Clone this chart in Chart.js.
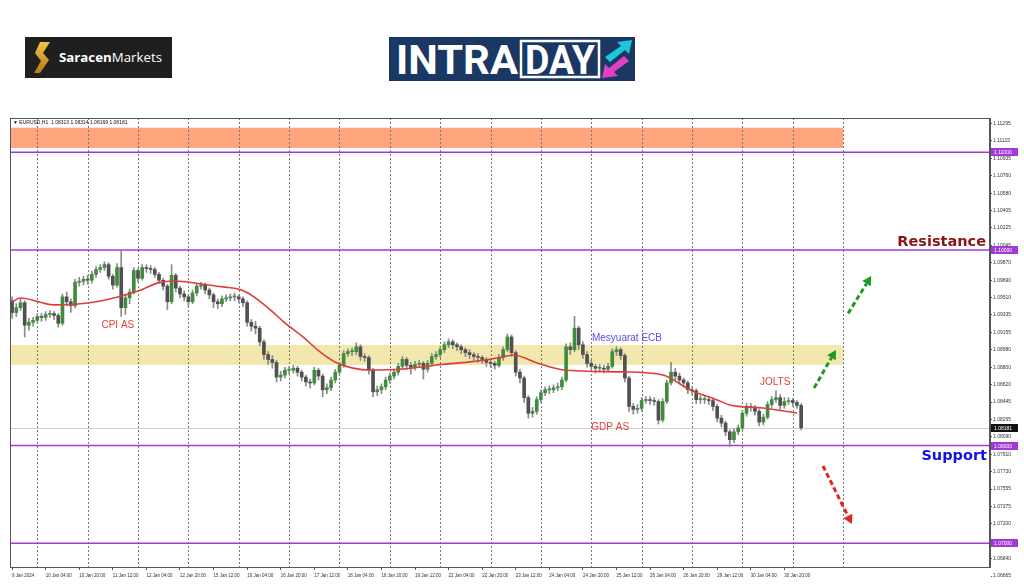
<!DOCTYPE html>
<html>
<head>
<meta charset="utf-8">
<script src="https://cdn.jsdelivr.net/npm/chart.js@4.4.1/dist/chart.umd.min.js"></script>
<style>
  body { margin: 0; background: #fff; }
  #wrap { position: relative; width: 1024px; height: 587px; overflow: hidden; }
  #chart { position: absolute; left: 0; top: 0; }
  .logo { position: absolute; }
</style>
</head>
<body>
<div id="wrap">
  <canvas id="chart" width="1024" height="587"></canvas>

  <svg class="logo" style="left:25px;top:37px" width="147" height="41">
    <defs>
      <linearGradient id="gold" x1="0" y1="0" x2="0" y2="1">
        <stop offset="0" stop-color="#f4c443"/>
        <stop offset="1" stop-color="#b57b17"/>
      </linearGradient>
    </defs>
    <rect width="147" height="41" fill="#1f1f1f"/>
    <path d="M15 5 L25 5 L18 16 L24 23 L15 36 L9 36 L16 24 L10 16 Z" fill="url(#gold)"/>
    <text x="34" y="25" font-family="Open Sans, Liberation Sans, sans-serif" font-size="12.5" fill="#fff"
          textLength="103" lengthAdjust="spacingAndGlyphs"><tspan font-weight="bold">Saracen</tspan>Markets</text>
  </svg>

  <svg class="logo" style="left:389px;top:37px" width="246" height="44">
    <rect width="246" height="44" fill="#1b3764"/>
    <text x="7" y="37" font-family="Liberation Sans Narrow, Roboto, Liberation Sans, sans-serif" font-weight="bold"
          font-size="41" fill="#fff" textLength="122" lengthAdjust="spacingAndGlyphs">INTRA</text>
    <rect x="132" y="4" width="78" height="36" fill="none" stroke="#fff" stroke-width="2.5"/>
    <text x="136" y="37" font-family="Liberation Sans Narrow, Roboto, Liberation Sans, sans-serif" font-weight="bold"
          font-size="41" fill="#fff" textLength="70" lengthAdjust="spacingAndGlyphs">DAY</text>
    <polygon points="216,20 232,9 228,5 243,3 240,17 236,13 221,25" fill="#1cc7d9"/>
    <polygon points="240,24 225,35 229,39 213,41 216,27 220,31 235,19" fill="#e23fc4"/>
  </svg>
</div>

<script>
// EURUSD H1, one candle per two hours (bar index)
const opens = [
  1.0948,1.0936,1.0941,1.0946,1.0923,1.0926,1.0928,1.0932,1.0931,1.0934,
  1.0935,1.0933,1.0925,1.0952,1.0947,1.0943,1.0967,1.0968,1.0970,1.0969,
  1.0975,1.0980,1.0982,1.0985,1.0973,1.0964,1.0982,1.0941,1.0951,1.0957,
  1.0979,1.0971,1.0982,1.0981,1.0980,1.0975,1.0969,1.0963,1.0947,1.0974,
  1.0961,1.0955,1.0952,1.0947,1.0956,1.0963,1.0964,1.0959,1.0954,1.0947,
  1.0945,1.0950,1.0951,1.0952,1.0952,1.0950,1.0946,1.0926,1.0922,1.0920,
  1.0906,1.0893,1.0888,1.0885,1.0870,1.0872,1.0877,1.0877,1.0879,1.0875,
  1.0870,1.0865,1.0864,1.0877,1.0871,1.0857,1.0859,1.0867,1.0875,1.0882,
  1.0894,1.0896,1.0896,1.0901,1.0891,1.0890,1.0877,1.0855,1.0857,1.0860,
  1.0867,1.0871,1.0875,1.0881,1.0888,1.0882,1.0880,1.0883,1.0884,1.0878,
  1.0884,1.0891,1.0893,1.0898,1.0903,1.0906,1.0903,1.0901,1.0898,1.0895,
  1.0893,1.0891,1.0890,1.0888,1.0885,1.0884,1.0882,1.0890,1.0898,1.0911,
  1.0895,1.0875,1.0869,1.0849,1.0833,1.0835,1.0847,1.0854,1.0857,1.0857,
  1.0859,1.0860,1.0867,1.0901,1.0898,1.0920,1.0903,1.0893,1.0884,1.0881,
  1.0879,1.0879,1.0878,1.0881,1.0896,1.0898,1.0892,1.0869,1.0840,1.0837,
  1.0838,1.0846,1.0847,1.0846,1.0845,1.0826,1.0845,1.0864,1.0875,1.0871,
  1.0867,1.0864,1.0857,1.0856,1.0847,1.0847,1.0847,1.0846,1.0840,1.0828,
  1.0823,1.0814,1.0806,1.0814,1.0818,1.0833,1.0840,1.0839,1.0835,1.0824,
  1.0829,1.0842,1.0847,1.0849,1.0841,1.0845,1.0846,1.0844,1.0841
];
const highs = [
  1.0952,1.0945,1.0950,1.0948,1.0930,1.0931,1.0935,1.0935,1.0937,1.0938,
  1.0937,1.0935,1.0955,1.0957,1.0950,1.0970,1.0972,1.0973,1.0974,1.0978,
  1.0983,1.0985,1.0988,1.0987,1.0975,1.0986,1.1000,1.0955,1.0960,1.0982,
  1.0981,1.0985,1.0985,1.0984,1.0982,1.0977,1.0971,1.0965,1.0985,1.0976,
  1.0963,1.0958,1.0954,1.0959,1.0966,1.0967,1.0966,1.0961,1.0956,1.0950,
  1.0953,1.0954,1.0955,1.0956,1.0954,1.0952,1.0948,1.0929,1.0927,1.0922,
  1.0908,1.0896,1.0892,1.0887,1.0876,1.0880,1.0881,1.0882,1.0881,1.0877,
  1.0872,1.0868,1.0880,1.0879,1.0873,1.0863,1.0870,1.0878,1.0885,1.0897,
  1.0899,1.0900,1.0905,1.0903,1.0894,1.0892,1.0879,1.0861,1.0863,1.0870,
  1.0874,1.0878,1.0884,1.0891,1.0890,1.0885,1.0886,1.0887,1.0886,1.0887,
  1.0894,1.0896,1.0901,1.0906,1.0909,1.0908,1.0905,1.0903,1.0900,1.0898,
  1.0895,1.0894,1.0892,1.0890,1.0888,1.0886,1.0893,1.0901,1.0914,1.0913,
  1.0897,1.0878,1.0871,1.0851,1.0839,1.0850,1.0857,1.0860,1.0861,1.0862,
  1.0864,1.0870,1.0904,1.0905,1.0932,1.0922,1.0906,1.0896,1.0887,1.0883,
  1.0883,1.0882,1.0884,1.0899,1.0901,1.0900,1.0894,1.0871,1.0843,1.0842,
  1.0849,1.0850,1.0850,1.0849,1.0847,1.0848,1.0867,1.0885,1.0879,1.0874,
  1.0869,1.0866,1.0860,1.0858,1.0851,1.0850,1.0850,1.0848,1.0842,1.0831,
  1.0825,1.0816,1.0817,1.0821,1.0836,1.0843,1.0843,1.0841,1.0837,1.0832,
  1.0845,1.0850,1.0856,1.0852,1.0849,1.0849,1.0848,1.0846,1.0843
];
const lows = [
  1.0930,1.0932,1.0938,1.0911,1.0918,1.0922,1.0925,1.0927,1.0928,1.0931,
  1.0929,1.0921,1.0923,1.0943,1.0936,1.0941,1.0963,1.0964,1.0965,1.0966,
  1.0972,1.0977,1.0979,1.0970,1.0960,1.0962,1.0932,1.0934,1.0945,1.0955,
  1.0967,1.0969,1.0977,1.0976,1.0972,1.0966,1.0959,1.0939,1.0945,1.0957,
  1.0951,1.0948,1.0942,1.0945,1.0953,1.0960,1.0955,1.0950,1.0941,1.0940,
  1.0942,1.0947,1.0948,1.0948,1.0946,1.0942,1.0922,1.0917,1.0914,1.0902,
  1.0888,1.0883,1.0879,1.0865,1.0866,1.0869,1.0873,1.0874,1.0871,1.0866,
  1.0861,1.0859,1.0862,1.0867,1.0850,1.0853,1.0856,1.0864,1.0872,1.0880,
  1.0891,1.0892,1.0893,1.0887,1.0886,1.0873,1.0850,1.0851,1.0853,1.0857,
  1.0864,1.0868,1.0872,1.0878,1.0878,1.0873,1.0877,1.0880,1.0868,1.0875,
  1.0881,1.0888,1.0890,1.0895,1.0900,1.0899,1.0897,1.0894,1.0891,1.0889,
  1.0887,1.0885,1.0884,1.0881,1.0880,1.0878,1.0880,1.0887,1.0896,1.0891,
  1.0871,1.0864,1.0844,1.0828,1.0829,1.0832,1.0844,1.0851,1.0853,1.0854,
  1.0856,1.0857,1.0865,1.0893,1.0896,1.0898,1.0889,1.0880,1.0877,1.0874,
  1.0875,1.0874,1.0875,1.0879,1.0892,1.0888,1.0865,1.0835,1.0832,1.0833,
  1.0835,1.0843,1.0842,1.0841,1.0822,1.0824,1.0843,1.0862,1.0867,1.0863,
  1.0860,1.0853,1.0852,1.0843,1.0843,1.0843,1.0842,1.0836,1.0824,1.0819,
  1.0810,1.0799,1.0803,1.0811,1.0816,1.0830,1.0835,1.0831,1.0820,1.0821,
  1.0827,1.0839,1.0844,1.0837,1.0838,1.0842,1.0840,1.0838,1.0816
];
const closes = [
  1.0936,1.0941,1.0946,1.0923,1.0926,1.0928,1.0932,1.0931,1.0934,1.0935,
  1.0933,1.0925,1.0952,1.0947,1.0943,1.0967,1.0968,1.0970,1.0969,1.0975,
  1.0980,1.0982,1.0985,1.0973,1.0964,1.0982,1.0941,1.0951,1.0957,1.0979,
  1.0971,1.0982,1.0981,1.0980,1.0975,1.0969,1.0963,1.0947,1.0974,1.0961,
  1.0955,1.0952,1.0947,1.0956,1.0963,1.0964,1.0959,1.0954,1.0947,1.0945,
  1.0950,1.0951,1.0952,1.0952,1.0950,1.0946,1.0926,1.0922,1.0920,1.0906,
  1.0893,1.0888,1.0885,1.0870,1.0872,1.0877,1.0877,1.0879,1.0875,1.0870,
  1.0865,1.0864,1.0877,1.0871,1.0857,1.0859,1.0867,1.0875,1.0882,1.0894,
  1.0896,1.0896,1.0901,1.0891,1.0890,1.0877,1.0855,1.0857,1.0860,1.0867,
  1.0871,1.0875,1.0881,1.0888,1.0882,1.0880,1.0883,1.0884,1.0878,1.0884,
  1.0891,1.0893,1.0898,1.0903,1.0906,1.0903,1.0901,1.0898,1.0895,1.0893,
  1.0891,1.0890,1.0888,1.0885,1.0884,1.0882,1.0890,1.0898,1.0911,1.0895,
  1.0875,1.0869,1.0849,1.0833,1.0835,1.0847,1.0854,1.0857,1.0857,1.0859,
  1.0860,1.0867,1.0901,1.0898,1.0920,1.0903,1.0893,1.0884,1.0881,1.0879,
  1.0879,1.0878,1.0881,1.0896,1.0898,1.0892,1.0869,1.0840,1.0837,1.0838,
  1.0846,1.0847,1.0846,1.0845,1.0826,1.0845,1.0864,1.0875,1.0871,1.0867,
  1.0864,1.0857,1.0856,1.0847,1.0847,1.0847,1.0846,1.0840,1.0828,1.0823,
  1.0814,1.0806,1.0814,1.0818,1.0833,1.0840,1.0839,1.0835,1.0824,1.0829,
  1.0842,1.0847,1.0849,1.0841,1.0845,1.0846,1.0844,1.0841,1.08181
];

// red moving average, sampled along the line
const maBars = [0, 1.9, 10.2, 18.1, 25.2, 30.7, 34.8, 38.8, 45, 50.7, 53.8, 56.2, 61, 65, 69.3, 73.4,
  77.4, 85.3, 93.1, 101.2, 109.1, 117, 119.4, 125.1, 131.3, 145.5, 155.1, 161.5, 168, 171, 178.9, 187];
const maValues = [1.09468, 1.09509, 1.09438, 1.09458, 1.09519, 1.09591, 1.09663, 1.09683, 1.09652, 1.09620,
  1.09600, 1.09560, 1.09407, 1.09254, 1.09110, 1.08957, 1.08845, 1.08773, 1.08783, 1.08824, 1.08855,
  1.08906, 1.08926, 1.08845, 1.08773, 1.08753, 1.08722, 1.08569, 1.08466, 1.08415, 1.08384, 1.08333];

const xTickBars = [0, 8, 16, 24, 32, 40, 48, 56, 64, 72, 80, 88, 96, 104, 112, 120, 128, 136, 144, 152, 160, 168, 176, 184];
const xTickLabels = ['9 Jan 2024', '10 Jan 04:00', '10 Jan 20:00', '11 Jan 12:00', '12 Jan 04:00', '12 Jan 20:00',
  '15 Jan 12:00', '16 Jan 04:00', '16 Jan 20:00', '17 Jan 12:00', '18 Jan 04:00', '18 Jan 20:00', '19 Jan 12:00',
  '22 Jan 04:00', '22 Jan 20:00', '23 Jan 12:00', '24 Jan 04:00', '24 Jan 20:00', '25 Jan 12:00', '26 Jan 04:00',
  '26 Jan 20:00', '29 Jan 12:00', '30 Jan 04:00', '30 Jan 20:00'];
const daySepBars = [6, 18, 30, 42, 54, 66, 78, 90, 102, 114, 126, 138, 150, 162, 174, 186, 198];

const yTickValues = [1.11295, 1.11115, 1.10935, 1.10760, 1.10580, 1.10405, 1.10225, 1.10045, 1.09870, 1.09690,
  1.09510, 1.09335, 1.09155, 1.08980, 1.08800, 1.08620, 1.08445, 1.08265, 1.08090, 1.07910, 1.07730,
  1.07555, 1.07375, 1.07200, 1.07020, 1.06840, 1.06665];

const levelLines = [1.11000, 1.10000, 1.08000, 1.07000];
const bidPrice = 1.08181;
const zoneLows = [1.11043, 1.08824];
const zoneHighs = [1.11250, 1.09029];
const zoneEndBar = 198;

const noteTexts = ['CPI AS', 'Mesyuarat ECB', 'GDP AS', 'JOLTS'];
const noteBars = [25.2, 146.5, 142.5, 181.8];
const notePrices = [1.0923, 1.0910, 1.0819, 1.0865];

// trend arrows: start bar/price -> end bar/price
const arrowFromBars = [199.2, 191.1, 193.2];
const arrowFromPrices = [1.09351, 1.08589, 1.07791];
const arrowToBars = [204.7, 196.3, 200.1];
const arrowToPrices = [1.09734, 1.08978, 1.07198];

const headerText = '\u25BC EURUSD,H1  1.08313 1.08314 1.08169 1.08181';

const zoneColors = ['rgba(255,150,105,0.85)', 'rgba(236,222,140,0.7)'];
const noteColors = ['#e5403a', '#5a4fe0', '#e5403a', '#e5403a'];
const arrowColors = ['#1f9a1f', '#1f9a1f', '#e02424'];
const purple = '#a23ad6';
const bull = '#3f8c3f';
const bear = '#505050';

const drawArrow = (ctx, x0, y0, x1, y1, color) => {
  const ang = Math.atan2(y1 - y0, x1 - x0);
  const head = 9;
  const bx = x1 - Math.cos(ang) * head, by = y1 - Math.sin(ang) * head;
  ctx.strokeStyle = color;
  ctx.fillStyle = color;
  ctx.lineWidth = 3;
  ctx.setLineDash([5, 3]);
  ctx.beginPath();
  ctx.moveTo(x0, y0);
  ctx.lineTo(bx, by);
  ctx.stroke();
  ctx.setLineDash([]);
  ctx.beginPath();
  ctx.moveTo(x1, y1);
  ctx.lineTo(bx + Math.sin(ang) * 5, by - Math.cos(ang) * 5);
  ctx.lineTo(bx - Math.sin(ang) * 5, by + Math.cos(ang) * 5);
  ctx.closePath();
  ctx.fill();
};

const overlay = {
  id: 'overlay',
  beforeDatasetsDraw(chart) {
    const { ctx, chartArea: a, scales: { x, y } } = chart;
    ctx.save();
    ctx.beginPath();
    ctx.rect(a.left, a.top, a.right - a.left, a.bottom - a.top);
    ctx.clip();

    const xEnd = x.getPixelForValue(zoneEndBar);
    zoneLows.forEach((lo, i) => {
      const top = y.getPixelForValue(zoneHighs[i]);
      const bot = y.getPixelForValue(lo);
      ctx.fillStyle = zoneColors[i];
      ctx.fillRect(a.left, top, xEnd - a.left, bot - top);
    });

    ctx.strokeStyle = '#777';
    ctx.lineWidth = 1;
    ctx.setLineDash([2, 2]);
    daySepBars.forEach(b => {
      const px = Math.round(x.getPixelForValue(b)) + 0.5;
      ctx.beginPath();
      ctx.moveTo(px, a.top);
      ctx.lineTo(px, a.bottom);
      ctx.stroke();
    });
    ctx.setLineDash([]);

    const bidY = Math.round(y.getPixelForValue(bidPrice)) + 0.5;
    ctx.strokeStyle = '#cfcfcf';
    ctx.beginPath();
    ctx.moveTo(a.left, bidY);
    ctx.lineTo(a.right, bidY);
    ctx.stroke();

    ctx.strokeStyle = purple;
    ctx.lineWidth = 1.5;
    levelLines.forEach(v => {
      const py = y.getPixelForValue(v);
      ctx.beginPath();
      ctx.moveTo(a.left, py);
      ctx.lineTo(a.right, py);
      ctx.stroke();
    });
    ctx.restore();
  },
  afterDatasetsDraw(chart) {
    const { ctx, chartArea: a, scales: { x, y } } = chart;
    ctx.save();

    ctx.font = '10px "Liberation Sans", Arial, sans-serif';
    ctx.textAlign = 'center';
    ctx.textBaseline = 'middle';
    noteTexts.forEach((t, i) => {
      ctx.fillStyle = noteColors[i];
      ctx.fillText(t, x.getPixelForValue(noteBars[i]), y.getPixelForValue(notePrices[i]));
    });

    arrowFromBars.forEach((b, i) => {
      drawArrow(ctx, x.getPixelForValue(b), y.getPixelForValue(arrowFromPrices[i]),
        x.getPixelForValue(arrowToBars[i]), y.getPixelForValue(arrowToPrices[i]), arrowColors[i]);
    });

    ctx.font = 'bold 14.5px "DejaVu Sans", Verdana, sans-serif';
    ctx.textAlign = 'right';
    ctx.textBaseline = 'alphabetic';
    ctx.fillStyle = '#8a1414';
    ctx.fillText('Resistance', a.right - 4, y.getPixelForValue(levelLines[1]) - 4);
    ctx.textBaseline = 'top';
    ctx.fillStyle = '#1010e6';
    ctx.fillText('Support', a.right - 3, y.getPixelForValue(levelLines[2]) + 3);

    ctx.font = '5px "Liberation Sans", Arial, sans-serif';
    ctx.textAlign = 'left';
    ctx.textBaseline = 'middle';
    ctx.fillStyle = '#111';
    ctx.fillText(headerText, a.left + 3, a.top + 5);

    ctx.strokeStyle = '#555';
    ctx.lineWidth = 1;
    ctx.strokeRect(a.left + 0.5, a.top + 0.5, a.right - a.left - 1, a.bottom - a.top);

    const box = (v, bg) => {
      const py = Math.round(y.getPixelForValue(v));
      ctx.fillStyle = bg;
      ctx.fillRect(a.right + 1, py - 4, 27, 8);
      ctx.fillStyle = '#fff';
      ctx.fillText(v.toFixed(5), a.right + 4, py + 0.5);
    };
    levelLines.forEach(v => box(v, purple));
    box(bidPrice, '#111');
    ctx.restore();
  }
};

const bodies = opens.map((o, i) => ({ x: i, y: [o, closes[i]] }));
const wicks = lows.map((l, i) => ({ x: i, y: [l, highs[i]] }));
const maLine = maBars.map((b, i) => ({ x: b, y: maValues[i] }));

new Chart(document.getElementById('chart'), {
  type: 'bar',
  data: {
    datasets: [
      {
        type: 'line',
        data: maLine,
        borderColor: '#e23b3b',
        borderWidth: 1.6,
        pointRadius: 0,
        cubicInterpolationMode: 'monotone',
        order: 1,
      },
      {
        data: bodies,
        backgroundColor: (c) => (closes[c.dataIndex] >= opens[c.dataIndex] ? bull : bear),
        barThickness: 3,
        minBarLength: 1,
        grouped: false,
        order: 2,
      },
      {
        data: wicks,
        backgroundColor: '#8a8a8a',
        barThickness: 1,
        grouped: false,
        order: 3,
      },
    ],
  },
  options: {
    responsive: false,
    animation: false,
    layout: { padding: { left: 10, top: 118, right: 0, bottom: 0 } },
    plugins: { legend: { display: false }, tooltip: { enabled: false } },
    scales: {
      x: {
        type: 'linear',
        min: -0.5,
        max: 233,
        offset: false,
        grid: { drawOnChartArea: false, offset: false, tickLength: 3, color: '#555' },
        border: { color: '#555' },
        ticks: {
          autoSkip: false,
          maxRotation: 0,
          align: 'start',
          padding: 3,
          color: '#333',
          font: { size: 4.5, family: 'Liberation Sans' },
          callback: (v) => {
            const i = xTickBars.indexOf(v);
            return i >= 0 ? xTickLabels[i] : '';
          },
        },
        afterBuildTicks: (s) => { s.ticks = xTickBars.map(v => ({ value: v })); },
        afterFit: (s) => { s.height = 20; },
      },
      y: {
        position: 'right',
        min: 1.06758,
        max: 1.11349,
        grid: { drawOnChartArea: false, tickLength: 2, color: '#555' },
        border: { color: '#555' },
        ticks: {
          padding: 1,
          color: '#333',
          font: { size: 5, family: 'Liberation Sans' },
          callback: (v) => Number(v).toFixed(5),
        },
        afterBuildTicks: (s) => { s.ticks = yTickValues.map(v => ({ value: v })); },
        afterFit: (s) => { s.width = 34; },
      },
    },
  },
  plugins: [overlay],
});
</script>
</body>
</html>
